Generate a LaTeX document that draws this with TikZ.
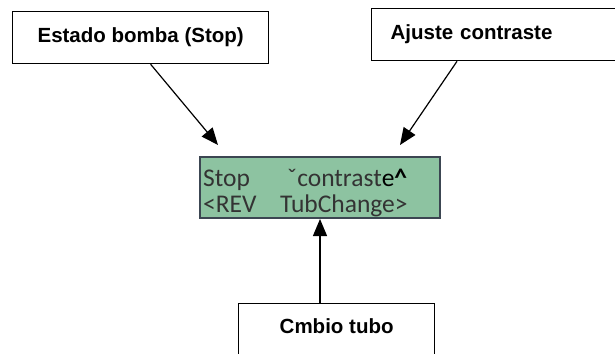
\documentclass[tikz,border=0pt]{standalone}
\usepackage{fontspec}
\setmainfont{Liberation Sans}
\newfontfamily\lcdfont{Carlito}
\usetikzlibrary{arrows.meta,calc}
\definecolor{lcdgreen}{RGB}{141,195,161}
\definecolor{lcdborder}{RGB}{60,70,82}
\definecolor{lcdtext}{RGB}{51,51,51}
\tikzset{
  labelbox/.style={draw=black,line width=1.3pt,fill=white,font=\fontsize{20.5}{24}\selectfont\bfseries,inner sep=0pt},
  lcdtxt/.style={font=\lcdfont\fontsize{25.5}{28}\selectfont,text=lcdtext,inner sep=0pt,anchor=base west},
  arr/.style={line width=1.2pt,-{Triangle[length=17pt,width=14pt]}}
}
\begin{document}
\begin{tikzpicture}[x=1pt,y=-1pt]
\useasboundingbox (0,0) rectangle (615,353);
\clip (0,0) rectangle (615,353);
\node[labelbox,minimum width=256pt,minimum height=52pt,anchor=north west] (b1) at (12,11) {Estado bomba (Stop)};
\node[labelbox,minimum height=52pt,text width=240pt,align=left,inner xsep=19pt,anchor=north west] (b2) at (371,8) {Ajuste contraste\vphantom{p}\raisebox{5pt}{}};
\node[labelbox,minimum width=196pt,minimum height=80pt,anchor=north west,text depth=45pt,text height=25pt] (b3) at (238,303) {Cmbio tubo};
\node[draw=lcdborder,line width=2pt,fill=lcdgreen,minimum width=240pt,minimum height=61pt,inner sep=0pt,anchor=north west] (lcd) at (199,156) {};
\node[lcdtxt] (t1) at (203,186) {Stop};
\node[lcdtxt] (t2) at (287,186) {ˇcontrast{\color{black}e\textbf{\^{}}}};
\node[lcdtxt] (t3) at (203,212) {<REV};
\node[lcdtxt] (t4) at (280,212) {TubChange>};
\coordinate (a1e) at (218,145);
\coordinate (a2e) at (400,145);
\draw[arr] ($(b1.south)+(10,0)$) -- (a1e);
\draw[arr] ($(b2.south west)+(86,0)$) -- (a2e);
\draw[arr] (lcd.south |- b3.north) -- (lcd.south);
\end{tikzpicture}
\end{document}
